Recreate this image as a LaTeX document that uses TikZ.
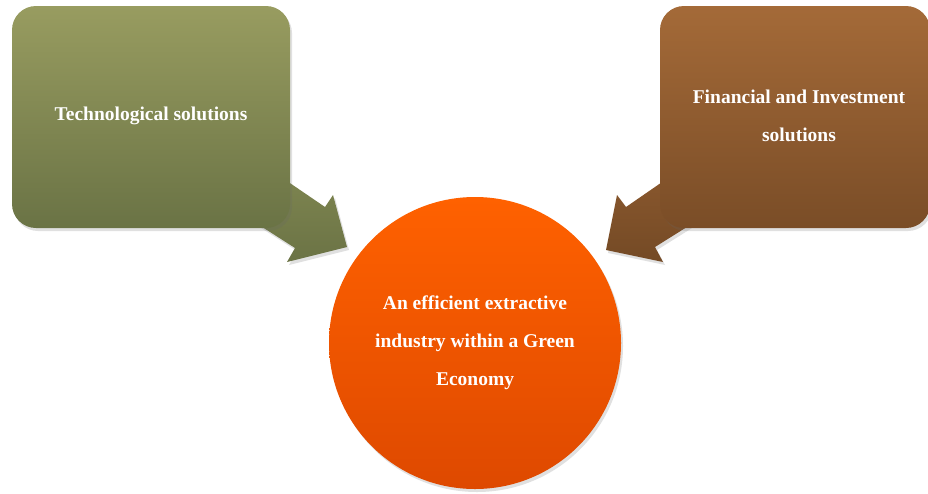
\documentclass[tikz,border=0pt]{standalone}
\usepackage{fontspec}
\setmainfont{Liberation Serif}
\usetikzlibrary{shadows,shapes.geometric}
\definecolor{ltop}{HTML}{989C60}
\definecolor{lbot}{HTML}{6A7345}
\definecolor{rtop}{HTML}{A46A38}
\definecolor{rbot}{HTML}{7A4D27}
\definecolor{ctop}{HTML}{FF6100}
\definecolor{cbot}{HTML}{DE4900}
\definecolor{latop}{HTML}{838A53}
\definecolor{labot}{HTML}{6B7345}
\definecolor{ratop}{HTML}{8F5B30}
\definecolor{rabot}{HTML}{744A25}
\tikzset{
  softshadow/.style={drop shadow={shadow xshift=2pt,shadow yshift=-3pt,opacity=0.2,fill=black!60}},
  boxstyle/.style={rounded corners=24pt,softshadow,inner sep=0pt},
  lbl/.style={text=white,font=\fontsize{19.5}{38}\selectfont\bfseries,align=center},
}
\begin{document}
\begin{tikzpicture}[x=1pt,y=-1pt]
\useasboundingbox (0,0) rectangle (928,493);
% left arrow
\coordinate (la1) at (240,149);
\coordinate (la2) at (325,207);
\coordinate (la3) at (333,195);
\coordinate (lat) at (347,247);
\coordinate (la5) at (287,262);
\coordinate (la6) at (295,248);
\coordinate (la7) at (220,200);
\path[top color=latop,bottom color=labot,softshadow] (la1) -- (la2) -- (la3) -- (lat) -- (la5) -- (la6) -- (la7) -- cycle;
% right arrow
\coordinate (ra1) at (710,149);
\coordinate (ra2) at (626,207);
\coordinate (ra3) at (617,195);
\coordinate (rat) at (606,250);
\coordinate (ra5) at (663,262);
\coordinate (ra6) at (655,247);
\coordinate (ra7) at (730,200);
\path[top color=ratop,bottom color=rabot,softshadow] (ra1) -- (ra2) -- (ra3) -- (rat) -- (ra5) -- (ra6) -- (ra7) -- cycle;
% boxes
\node[boxstyle,top color=ltop,bottom color=lbot,minimum width=278pt,minimum height=222pt] (tech) at (151,117) {};
\node[lbl] (techtxt) at (151,116) {Technological solutions};
\node[boxstyle,top color=rtop,bottom color=rbot,minimum width=270pt,minimum height=222pt] (fin) at (795,117) {};
\node[lbl] (fintxt) at (799,116) {Financial and Investment\\solutions};
% circle
\node[circle,softshadow,top color=ctop,bottom color=cbot,minimum size=292pt,inner sep=0pt] (eco) at (475,343) {};
\node[lbl] (ecotxt) at (475,343) {An efficient extractive\\industry within a Green\\Economy};
\end{tikzpicture}
\end{document}
